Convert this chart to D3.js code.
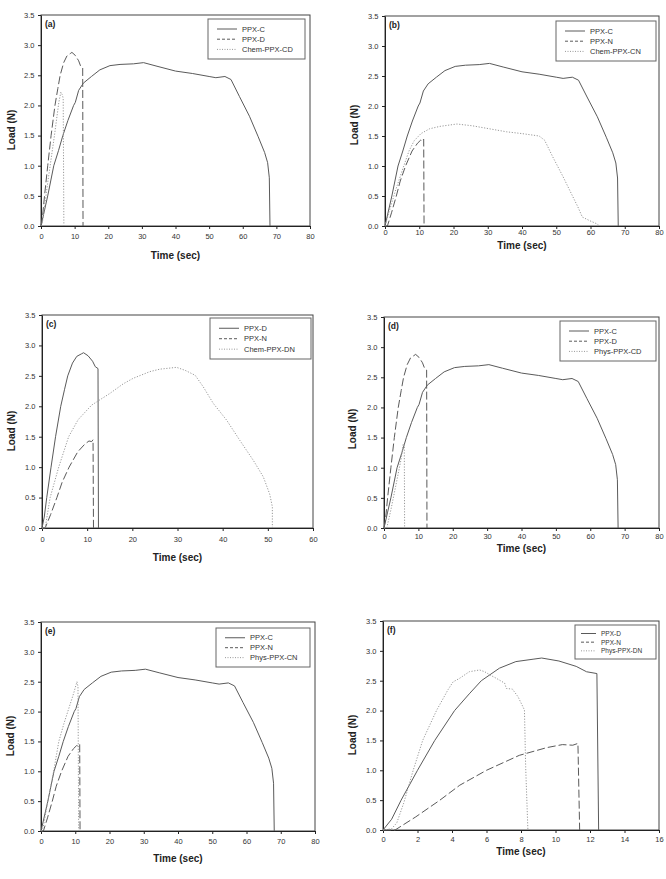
<!DOCTYPE html>
<html>
<head>
<meta charset="utf-8">
<script src="https://cdn.jsdelivr.net/npm/d3@7"></script>
<style>
body{margin:0;background:#fff;}
svg{display:block;font-family:"Liberation Sans",Arial,sans-serif;}
</style>
</head>
<body>
<svg id="fig" width="666" height="879"></svg>
<script>
// load curves, [time (sec), load (N)]
var ppxC = [[0,0],[1,0.25],[2,0.5],[3.8,1.0],[5.2,1.25],[6.5,1.5],[8,1.75],[9.7,2.0],[10.2,2.05],[11.2,2.25],[12.6,2.37],[15,2.48],[17.5,2.59],[20.5,2.66],[23.5,2.68],[27.5,2.69],[30.5,2.71],[34.5,2.65],[40,2.57],[45,2.53],[50,2.48],[52,2.46],[54.7,2.48],[56.5,2.43],[59,2.15],[62,1.82],[64.6,1.48],[66.5,1.22],[67.4,1.05],[67.9,0.8],[68.1,0]];
var ppxD = [[0,0],[0.5,0.18],[1.05,0.5],[2.0,1.0],[3.0,1.5],[4.15,2.0],[5.0,2.28],[5.7,2.5],[6.75,2.71],[7.7,2.82],[8.7,2.86],[9.2,2.88],[10.2,2.83],[11.2,2.74],[11.8,2.65],[12.4,2.62],[12.5,0]];
var ppxN = [[0,0],[0.7,0],[1.9,0.22],[3.3,0.5],[4.45,0.75],[6.0,1.0],[7.9,1.25],[9.5,1.38],[10.4,1.43],[11.0,1.42],[11.3,1.45],[11.4,0]];
var chemCD = [[0,0],[0.4,0.05],[2,0.72],[4,1.5],[5.3,2.05],[5.9,2.22],[6.3,2.18],[6.6,2.12],[6.8,0]];
var chemCN = [[0,0],[1,0.2],[3,0.58],[5,0.92],[7,1.25],[8.5,1.42],[10.5,1.54],[13,1.62],[16,1.66],[21,1.70],[25.5,1.67],[30.5,1.62],[35.5,1.57],[40,1.54],[45,1.50],[46.6,1.43],[49,1.15],[52,0.82],[54.4,0.54],[56.3,0.32],[57.6,0.15],[59.7,0.09],[61.7,0.04],[62.7,0]];
var chemDN = [[0,0],[0.7,0],[1.8,0.5],[3.7,1.0],[5.9,1.5],[8,1.78],[11,2.02],[15,2.21],[18,2.37],[20.2,2.46],[23.9,2.57],[26.1,2.61],[29.8,2.64],[31.7,2.59],[33.9,2.51],[35.7,2.32],[37.9,2.05],[40.9,1.77],[43.8,1.44],[46.8,1.11],[49,0.84],[50.4,0.56],[51,0.35],[51,0]];
var physCD = [[0,0],[0.8,0],[2,0.3],[3.5,0.72],[5,1.15],[5.6,1.4],[5.9,1.38],[6.0,0]];
var physCN = [[0,0],[0.6,0.05],[2,0.5],[3.7,1.0],[5.2,1.5],[6.7,1.8],[8.1,2.05],[9.5,2.3],[10.5,2.5],[10.8,2.42],[11.0,0]];
var physDN = [[0,0],[0.5,0.02],[0.8,0.12],[1.2,0.45],[1.75,1.0],[2.3,1.5],[3.1,2.0],[3.77,2.35],[4.06,2.48],[4.44,2.54],[5.0,2.65],[5.6,2.68],[5.9,2.65],[6.18,2.60],[6.57,2.54],[7.05,2.46],[7.15,2.37],[7.5,2.36],[7.83,2.23],[8.1,2.07],[8.2,2.01],[8.27,1.06],[8.4,0]];

var yTicks = [0,0.5,1.0,1.5,2.0,2.5,3.0,3.5];
var xTicks80 = [0,10,20,30,40,50,60,70,80];
var xTicks60 = [0,10,20,30,40,50,60];
var xTicks16 = [0,2,4,6,8,10,12,14,16];

var panels = [
  {tag:'(a)', xmax:80, xticks:xTicks80, series:[ppxC, ppxD, chemCD], names:['PPX-C','PPX-D','Chem-PPX-CD']},
  {tag:'(b)', xmax:80, xticks:xTicks80, series:[ppxC, ppxN, chemCN], names:['PPX-C','PPX-N','Chem-PPX-CN']},
  {tag:'(c)', xmax:60, xticks:xTicks60, series:[ppxD, ppxN, chemDN], names:['PPX-D','PPX-N','Chem-PPX-DN']},
  {tag:'(d)', xmax:80, xticks:xTicks80, series:[ppxC, ppxD, physCD], names:['PPX-C','PPX-D','Phys-PPX-CD']},
  {tag:'(e)', xmax:80, xticks:xTicks80, series:[ppxC, ppxN, physCN], names:['PPX-C','PPX-N','Phys-PPX-CN']},
  {tag:'(f)', xmax:16, xticks:xTicks16, series:[ppxD, ppxN, physDN], names:['PPX-D','PPX-N','Phys-PPX-DN']}
];

// where each panel sits on the page (scanned figure, so they differ a bit)
var layout = [
  {l:41, t:15, r:310, b:226, tickY:236, titleY:255, loadX:11, loadMid:130, lg:[208,19,97,40]},
  {l:385, t:16, r:659, b:226, tickY:232, titleY:245, loadX:354, loadMid:125, lg:[556,21,100,40]},
  {l:42, t:315, r:313, b:528, tickY:539, titleY:557, loadX:11, loadMid:431, lg:[210,318,101,41]},
  {l:384, t:317, r:659, b:528, tickY:536.5, titleY:548.5, loadX:352, loadMid:429, lg:[560,321,96,40]},
  {l:41, t:622, r:315, b:831, tickY:841, titleY:858, loadX:10, loadMid:736, lg:[216,628,94,39]},
  {l:383, t:621, r:659, b:830, tickY:839.5, titleY:851, loadX:352, loadMid:735, lg:[575,625,81,34]}
];

var styles = [
  {dash:null, lgDash:null, color:'#5a5a5a'},
  {dash:'8,3', lgDash:'3,2', color:'#5a5a5a'},
  {dash:'1.2,1.6', lgDash:'1,1.5', color:'#999'}
];

var svg = d3.select('#fig');

panels.forEach(function(p, i){
  var L = layout[i];
  var x = d3.scaleLinear().domain([0, p.xmax]).range([L.l, L.r]);
  var y = d3.scaleLinear().domain([0, 3.5]).range([L.b, L.t]);
  var g = svg.append('g');

  // frame
  g.append('rect').attr('x', L.l).attr('y', L.t)
    .attr('width', L.r - L.l).attr('height', L.b - L.t)
    .attr('fill', 'none').attr('stroke', '#444').attr('stroke-width', 1);

  var xa = g.append('g').attr('transform', 'translate(0,' + L.b + ')')
    .call(d3.axisBottom(x).tickValues(p.xticks).tickSize(3).tickSizeOuter(0)
      .tickPadding(L.tickY - L.b - 5.7).tickFormat(d3.format('d')));
  var ya = g.append('g').attr('transform', 'translate(' + L.l + ',0)')
    .call(d3.axisLeft(y).tickValues(yTicks).tickSize(3).tickSizeOuter(0)
      .tickPadding(3.5).tickFormat(d3.format('.1f')));
  [xa, ya].forEach(function(a){
    a.select('.domain').attr('stroke', '#222');
    a.selectAll('line').attr('stroke', '#222');
    a.selectAll('text').attr('fill', '#333').style('font-size', '7.5px')
      .style('font-family', '"Liberation Sans",Arial,sans-serif');
  });

  // curves
  p.series.forEach(function(s, k){
    var st = styles[k];
    g.append('path').datum(s)
      .attr('d', d3.line().x(function(d){ return x(d[0]); }).y(function(d){ return y(d[1]); }))
      .attr('fill', 'none').attr('stroke', st.color).attr('stroke-width', 1)
      .attr('stroke-dasharray', st.dash);
  });

  // panel tag
  g.append('text').attr('x', L.l + 4).attr('y', L.t + 12)
    .style('font-size', '8.5px').style('font-weight', 'bold').attr('fill', '#222')
    .text(p.tag);

  // axis titles
  g.append('text').attr('x', (L.l + L.r) / 2).attr('y', L.titleY + 3.5)
    .attr('text-anchor', 'middle').style('font-size', '10px').style('font-weight', 'bold')
    .attr('fill', '#222').text('Time (sec)');
  g.append('text')
    .attr('transform', 'translate(' + (L.loadX + 3.5) + ',' + L.loadMid + ') rotate(-90)')
    .attr('text-anchor', 'middle').style('font-size', '10px').style('font-weight', 'bold')
    .attr('fill', '#222').text('Load (N)');

  // legend
  var lg = L.lg;
  var small = lg[2] < 90;
  var lgG = g.append('g');
  lgG.append('rect').attr('x', lg[0]).attr('y', lg[1]).attr('width', lg[2]).attr('height', lg[3])
    .attr('fill', '#fff').attr('stroke', '#666').attr('stroke-width', 1);
  p.names.forEach(function(n, k){
    var st = styles[k];
    var ry = lg[1] + lg[3] * (0.25 + 0.255 * k);
    var x0 = lg[0] + (small ? 6 : 9), x1 = lg[0] + (small ? 21 : 29);
    lgG.append('line').attr('x1', x0).attr('x2', x1).attr('y1', ry).attr('y2', ry)
      .attr('stroke', st.color).attr('stroke-width', 1).attr('stroke-dasharray', st.lgDash);
    lgG.append('text').attr('x', lg[0] + (small ? 26 : 34)).attr('y', ry + 2.6)
      .style('font-size', small ? '6.5px' : '7.5px').attr('fill', '#333').text(n);
  });
});
</script>
</body>
</html>
